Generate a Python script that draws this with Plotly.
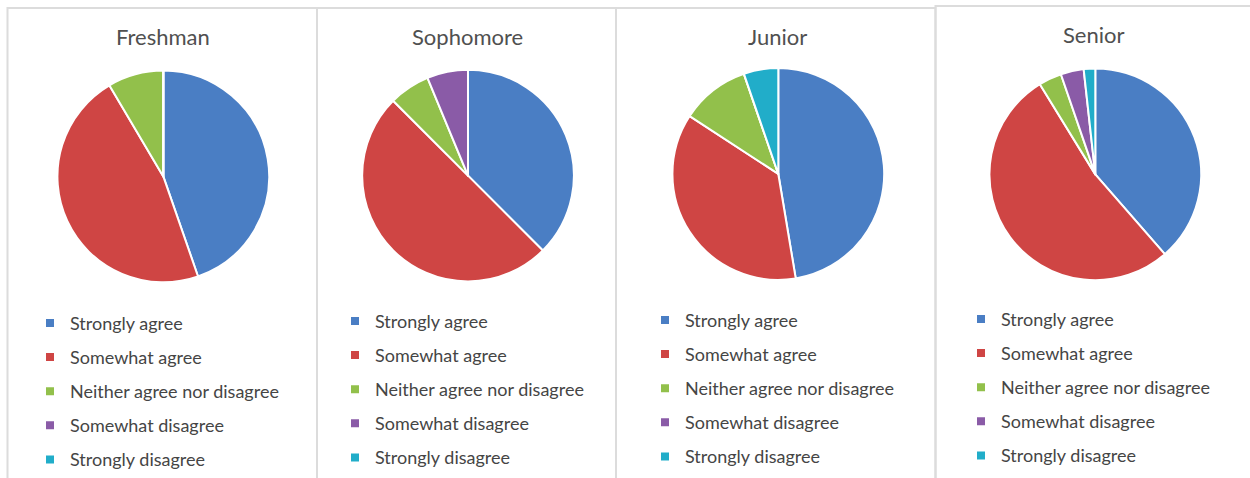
import plotly.graph_objects as go

# Survey responses by class year (counts of students)
classes = ["Freshman", "Sophomore", "Junior", "Senior"]
responses = ["Strongly agree", "Somewhat agree", "Neither agree nor disagree",
             "Somewhat disagree", "Strongly disagree"]
freshman = [21, 22, 4, 0, 0]
sophomore = [12, 16, 2, 2, 0]
junior = [9, 7, 2, 0, 1]
senior = [22, 30, 2, 2, 1]
colors = ["#4a7ec4", "#cf4544", "#92c04b", "#8a5ba7", "#21adc9"]

W, H = 1250, 478
TITLE_COLOR = "#505050"
TEXT_COLOR = "#454545"
FONT = "Lato"

# Layout of the four panels, in pixels
panel_edges = [7.5, 317, 616, 935.5, 1252]
panel_tops = [8, 8, 8, 6]
pie_centers = [(163.3, 178.3), (468.0, 177.5), (778.3, 175.8), (1095.3, 176.2)]
pie_radius = 107
title_pos = [(162.5, 37), (467.5, 37), (777.7, 37), (1094, 35)]
legend_text_left = [70, 375, 685, 1001]
legend_first_row = [322, 320, 319, 318]


def px(x):
    return x / W


def py(y):
    return 1 - y / H


fig = go.Figure()
series = [freshman, sophomore, junior, senior]
legend_ids = ["legend", "legend2", "legend3", "legend4"]

for i, (name, vals) in enumerate(zip(classes, series)):
    cx, cy = pie_centers[i]
    fig.add_trace(go.Pie(
        labels=responses, values=vals, name=name,
        sort=False, direction="clockwise", rotation=0,
        marker=dict(colors=colors, line=dict(color="white", width=2)),
        textinfo="none", hoverinfo="label+value+percent",
        showlegend=False,
        domain=dict(x=[px(cx - pie_radius), px(cx + pie_radius)],
                    y=[py(cy + pie_radius), py(cy - pie_radius)]),
    ))
    # legend entries for this panel
    for j, (lab, col) in enumerate(zip(responses, colors)):
        fig.add_trace(go.Scatter(
            x=[None], y=[None], mode="markers", name=lab,
            marker=dict(symbol="square", size=8, color=col),
            legend=legend_ids[i], legendgroup=f"{name}-{j}",
            showlegend=True, hoverinfo="skip",
        ))

layout_legends = {}
for i, lid in enumerate(legend_ids):
    layout_legends[lid] = dict(
        x=px(legend_text_left[i] - 40), xanchor="left",
        y=py(legend_first_row[i] - 14), yanchor="top",
        bgcolor="rgba(0,0,0,0)", borderwidth=0,
        font=dict(family=FONT, size=18, color=TEXT_COLOR),
        traceorder="grouped", tracegroupgap=7.7,
        itemclick=False, itemdoubleclick=False,
    )

shapes = []
for i in range(4):
    shapes.append(dict(
        type="rect", xref="paper", yref="paper",
        x0=px(panel_edges[i]), x1=px(panel_edges[i + 1]),
        y0=py(H + 20), y1=py(panel_tops[i]),
        line=dict(color="#dcdcdc", width=2), fillcolor="rgba(0,0,0,0)",
        layer="below",
    ))

annotations = [
    dict(text=name, x=px(tx), y=py(ty), xref="paper", yref="paper",
         xanchor="center", yanchor="middle", showarrow=False,
         font=dict(family=FONT, size=22, color=TITLE_COLOR))
    for name, (tx, ty) in zip(classes, title_pos)
]

fig.update_layout(
    width=W, height=H,
    margin=dict(l=0, r=0, t=0, b=0),
    paper_bgcolor="white", plot_bgcolor="white",
    xaxis=dict(visible=False), yaxis=dict(visible=False),
    shapes=shapes, annotations=annotations,
    showlegend=True,
    **layout_legends,
)

fig.write_html("out.html")
